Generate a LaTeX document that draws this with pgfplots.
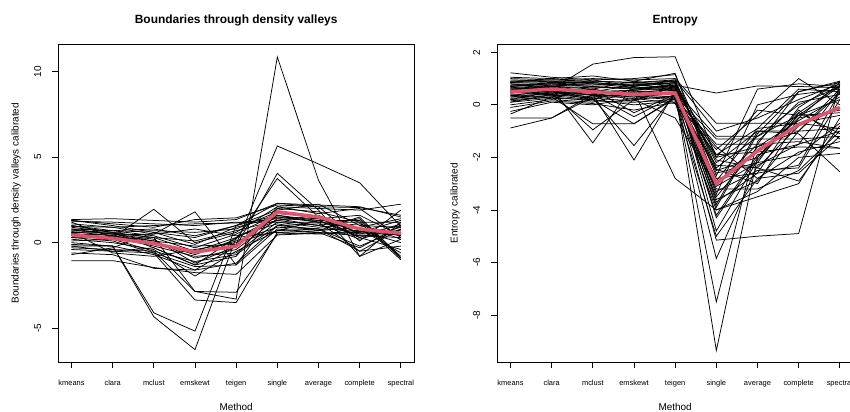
\documentclass[border=0pt]{standalone}
\usepackage{pgfplots}
\pgfplotsset{compat=1.18}
\usepackage{fontspec}
\setmainfont{Liberation Sans}
\definecolor{rred}{HTML}{DF536B}
\newcommand\LL[9]{\addplot[black, line width=0.75bp] coordinates {(1,#1)(2,#2)(3,#3)(4,#4)(5,#5)(6,#6)(7,#7)(8,#8)(9,#9)};}
\pgfplotsset{rbase/.style={
  scale only axis, width=355.7bp, height=318bp,
  xmin=0.68, xmax=9.32,
  axis line style={line width=0.7bp},
  xtick={1,...,9},
  xticklabels={kmeans,clara,mclust,emskewt,teigen,single,average,complete,spectral},
  tick align=outside, major tick length=6bp,
  xtick pos=bottom, ytick pos=left,
  tick style={black, line width=0.7bp},
  /pgf/number format/assume math mode=true,
  typeset ticklabels with strut,
  xticklabel shift=7bp,
  yticklabel shift=4bp,
  xticklabel style={font=\fontsize{7.5}{9}\selectfont},
  yticklabel style={font=\fontsize{10}{12}\selectfont, rotate=90, anchor=south},
  every axis title shift=0pt,
  title style={font=\bfseries\fontsize{12}{14}\selectfont, at={(axis description cs:0.5,1.0755)}, anchor=center},
  xlabel style={font=\fontsize{10}{12}\selectfont, at={(axis description cs:0.5,-0.1396)}, anchor=center},
  ylabel style={font=\fontsize{10}{12}\selectfont, at={(axis description cs:-0.119,0.5)}, anchor=center},
  xlabel={Method},
  clip=true,
  after end axis/.code={\draw[line width=1.4bp] (rel axis cs:0,0) -- (rel axis cs:1,0);},
}}
\begin{document}
\begin{tikzpicture}
\path[use as bounding box, fill=white] (0bp,0bp) rectangle (850bp,412bp);
\begin{scope}
\clip (0bp,0bp) rectangle (850bp,412bp);
\begin{axis}[rbase, at={(58.3bp,49.7bp)}, anchor=south west,
  ymin=-6.99, ymax=11.59, ytick={-5,0,5,10},
  title={Boundaries through density valleys},
  ylabel={Boundaries through density valleys calibrated}]
\LL{1.35}{1.40}{1.30}{1.20}{1.35}{2.30}{2.20}{2.10}{1.50}
\LL{1.30}{1.10}{0.90}{1.35}{1.45}{2.20}{2.10}{2.05}{1.60}
\LL{1.20}{0.30}{1.95}{0.00}{0.60}{2.10}{2.00}{1.90}{2.25}
\LL{1.10}{0.90}{0.50}{1.80}{-1.30}{2.00}{1.80}{1.20}{-1.00}
\LL{1.00}{0.70}{0.80}{0.40}{1.00}{1.90}{2.25}{1.00}{0.90}
\LL{0.90}{0.60}{0.70}{0.60}{0.80}{1.80}{1.40}{0.60}{1.30}
\LL{0.80}{0.70}{0.40}{-0.30}{0.50}{1.70}{1.50}{0.80}{0.40}
\LL{0.75}{0.50}{0.20}{-1.20}{-0.20}{1.60}{1.30}{0.30}{1.10}
\LL{0.70}{0.60}{-0.30}{-1.30}{0.30}{1.50}{1.20}{-0.50}{0.80}
\LL{0.65}{0.40}{0.10}{-0.90}{-0.40}{1.40}{1.00}{1.40}{-0.80}
\LL{0.60}{0.55}{0.30}{0.10}{0.70}{1.30}{1.60}{0.50}{0.60}
\LL{0.55}{0.30}{-0.20}{-0.80}{-0.60}{1.20}{0.90}{1.10}{0.20}
\LL{0.50}{0.45}{0.50}{0.80}{0.40}{1.10}{0.70}{0.90}{1.40}
\LL{0.45}{0.20}{-0.50}{-1.10}{-0.70}{1.00}{1.10}{0.20}{0.90}
\LL{0.40}{0.35}{0.00}{-0.60}{0.10}{0.90}{0.80}{0.70}{0.00}
\LL{0.30}{0.10}{-0.60}{-1.40}{-1.30}{0.80}{0.60}{-0.30}{1.00}
\LL{0.20}{0.00}{-0.40}{-1.95}{-0.50}{0.70}{1.30}{0.40}{0.50}
\LL{0.10}{0.20}{0.30}{-0.50}{0.30}{0.60}{0.50}{0.60}{0.70}
\LL{0.00}{-0.20}{-0.70}{-1.60}{-0.20}{4.05}{1.90}{-0.80}{1.20}
\LL{1.00}{0.60}{0.30}{-2.85}{-3.30}{10.85}{3.65}{-0.80}{0.20}
\LL{-0.10}{-0.20}{-4.10}{-5.17}{1.00}{1.60}{1.20}{0.80}{-0.60}
\LL{-0.20}{-0.20}{-4.33}{-6.25}{0.30}{1.30}{1.00}{0.50}{1.00}
\LL{0.80}{0.50}{0.10}{-0.20}{-0.10}{5.65}{4.60}{3.50}{0.95}
\LL{0.30}{0.40}{0.00}{-0.70}{0.20}{3.75}{1.50}{0.30}{-0.40}
\LL{-0.30}{-0.40}{-0.50}{-2.85}{-2.90}{0.50}{0.60}{0.40}{0.30}
\LL{-0.40}{-0.50}{-0.60}{-3.35}{-3.50}{0.60}{0.70}{1.50}{-0.90}
\LL{-1.05}{-1.05}{-1.45}{-1.75}{-1.85}{0.45}{0.55}{0.65}{0.60}
\LL{-0.60}{-0.70}{-1.50}{-1.60}{-1.20}{1.00}{0.80}{-0.50}{-0.20}
\LL{1.25}{1.20}{1.10}{1.00}{1.20}{1.20}{1.20}{1.20}{1.20}
\LL{-0.20}{-0.50}{-0.30}{-1.30}{-0.80}{2.10}{1.70}{2.00}{0.30}
\LL{0.95}{0.90}{1.00}{1.10}{1.15}{1.40}{1.30}{1.30}{-0.90}
\LL{0.60}{-0.60}{-0.80}{-0.40}{0.00}{0.70}{0.80}{-0.20}{0.80}
\LL{1.30}{1.00}{0.60}{0.30}{1.00}{2.30}{2.10}{0.10}{1.90}
\LL{-0.70}{-0.30}{0.60}{-0.10}{0.90}{1.50}{1.40}{1.60}{0.40}
\addplot[rred, line width=3.5bp] coordinates {(1,0.45)(2,0.25)(3,-0.05)(4,-0.55)(5,-0.2)(6,1.8)(7,1.5)(8,0.8)(9,0.55)};
\end{axis}
\begin{axis}[rbase, at={(497.3bp,49.7bp)}, anchor=south west,
  ymin=-9.80, ymax=2.305, ytick={-8,-6,-4,-2,0,2},
  title={Entropy},
  ylabel={Entropy calibrated}]
\LL{1.22}{1.05}{0.95}{1.00}{1.15}{-2.40}{-1.20}{-0.40}{0.70}
\LL{1.05}{1.00}{1.10}{0.90}{1.20}{-3.00}{-1.50}{0.50}{0.85}
\LL{1.00}{0.95}{0.90}{0.85}{0.95}{-1.00}{-0.50}{0.20}{0.80}
\LL{0.95}{0.90}{0.80}{0.75}{0.90}{-2.60}{-2.20}{-0.10}{0.90}
\LL{0.90}{0.85}{0.85}{0.70}{0.85}{-1.90}{-0.90}{0.60}{0.50}
\LL{0.85}{0.80}{0.75}{0.80}{0.80}{-3.60}{-2.90}{-1.00}{0.60}
\LL{0.80}{0.75}{0.70}{0.60}{0.75}{-2.20}{-1.00}{-1.00}{-0.90}
\LL{0.75}{0.70}{0.65}{0.65}{0.70}{-4.30}{-2.00}{-0.30}{0.75}
\LL{0.70}{0.60}{1.55}{1.80}{1.83}{-2.00}{-1.60}{-0.60}{0.30}
\LL{0.65}{0.55}{0.50}{0.55}{0.75}{0.45}{0.72}{0.70}{0.65}
\LL{0.60}{0.65}{-1.45}{0.80}{0.60}{-3.30}{-2.50}{-2.40}{0.20}
\LL{0.55}{0.50}{0.40}{-2.10}{0.50}{-3.80}{-1.00}{-1.10}{-2.55}
\LL{0.50}{0.60}{0.45}{0.50}{0.55}{-5.15}{-5.00}{-4.90}{0.80}
\LL{0.45}{0.55}{0.35}{0.40}{0.50}{-9.35}{-2.00}{-0.50}{-0.20}
\LL{0.40}{0.45}{0.30}{0.30}{0.45}{-7.50}{-1.40}{0.10}{0.40}
\LL{0.35}{0.40}{0.25}{-1.55}{0.40}{-5.85}{-2.30}{-1.50}{-1.00}
\LL{0.30}{0.45}{-0.95}{0.20}{0.35}{-1.30}{-1.30}{-1.30}{-1.20}
\LL{0.25}{0.35}{0.20}{-0.72}{0.30}{-2.80}{-2.60}{-2.30}{0.50}
\LL{0.20}{0.30}{-0.72}{-0.72}{0.25}{-1.50}{-1.50}{-1.40}{-1.65}
\LL{0.15}{0.30}{0.15}{0.10}{0.20}{-4.00}{-3.50}{-3.00}{-0.50}
\LL{0.10}{0.25}{0.20}{0.00}{0.15}{-1.70}{-0.40}{1.00}{0.00}
\LL{0.00}{0.20}{0.10}{0.50}{-2.80}{-4.00}{-3.30}{-2.00}{-1.85}
\LL{-0.10}{0.15}{0.05}{-0.20}{0.10}{-5.00}{-2.80}{-1.80}{-1.40}
\LL{-0.25}{0.10}{0.00}{0.25}{0.05}{-2.30}{-2.40}{-0.80}{-0.10}
\LL{-0.50}{-0.50}{0.30}{0.40}{0.30}{-3.20}{-3.20}{-2.50}{-1.00}
\LL{-0.88}{-0.50}{0.40}{0.30}{0.20}{-1.90}{-1.80}{-1.60}{-1.65}
\LL{-0.35}{0.30}{0.60}{-0.30}{0.40}{-2.50}{-2.00}{-0.20}{-1.30}
\LL{0.60}{0.70}{0.60}{0.90}{0.70}{-3.40}{0.00}{0.40}{0.60}
\LL{0.80}{0.65}{0.95}{0.70}{0.95}{-2.70}{0.60}{0.80}{0.70}
\LL{0.70}{0.80}{0.70}{0.60}{0.80}{-3.70}{-2.60}{-0.30}{-1.10}
\LL{0.45}{0.60}{0.55}{0.45}{0.60}{-4.20}{-1.90}{-1.50}{0.55}
\LL{0.55}{0.70}{0.50}{0.55}{0.65}{-2.90}{-0.90}{-0.70}{-0.40}
\LL{0.65}{0.75}{0.80}{0.65}{0.55}{-1.20}{-1.20}{0.00}{0.70}
\LL{0.35}{0.55}{0.45}{0.20}{-0.50}{-3.10}{-2.20}{-1.90}{-0.70}
\LL{0.20}{0.50}{0.20}{0.60}{0.60}{-2.00}{-0.20}{-0.40}{-0.30}
\LL{0.90}{0.95}{1.00}{0.95}{1.00}{-0.70}{-0.70}{-0.70}{-0.90}
\LL{0.75}{0.80}{0.85}{0.75}{0.85}{-2.45}{-3.00}{-0.50}{0.85}
\LL{0.30}{0.35}{0.40}{-0.45}{0.35}{-3.50}{-1.60}{-1.00}{0.45}
\LL{0.85}{0.90}{0.90}{0.85}{0.90}{-4.80}{-2.10}{-0.40}{0.20}
\LL{0.50}{0.45}{0.60}{0.35}{0.25}{-1.60}{-2.80}{-2.60}{-1.20}
\LL{0.10}{0.40}{0.50}{0.75}{0.65}{-3.90}{-1.10}{0.50}{0.90}
\LL{0.60}{0.55}{0.25}{0.15}{0.70}{-2.10}{-2.40}{-2.90}{-0.80}
\addplot[rred, line width=3.5bp] coordinates {(1,0.5)(2,0.6)(3,0.5)(4,0.4)(5,0.45)(6,-3.0)(7,-1.75)(8,-0.75)(9,-0.1)};
\end{axis}
\end{scope}
\end{tikzpicture}
\end{document}
